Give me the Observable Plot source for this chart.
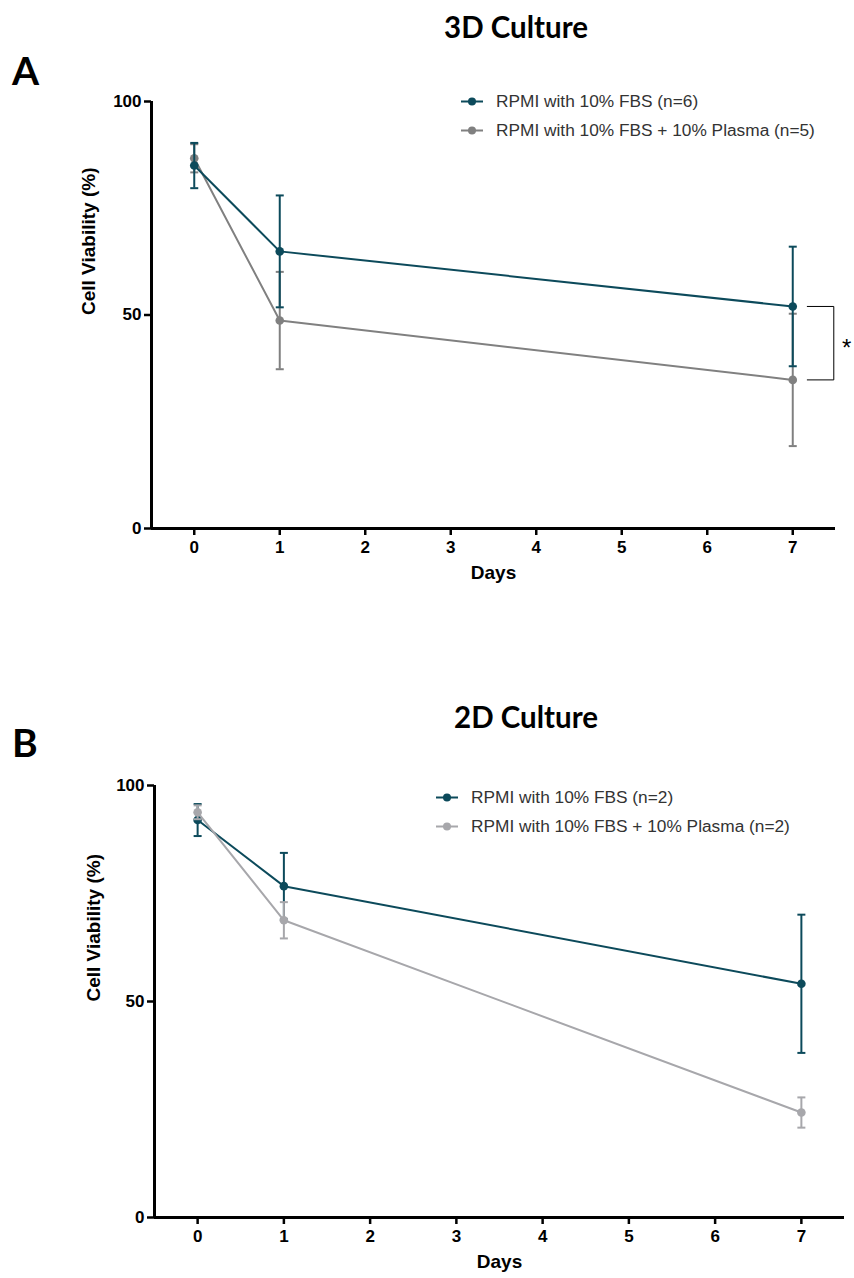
<!DOCTYPE html>
<html>
<head>
<meta charset="utf-8">
<script src="https://cdn.jsdelivr.net/npm/d3@7"></script>
<script src="https://cdn.jsdelivr.net/npm/@observablehq/plot@0.6"></script>
<style>
  html, body { margin: 0; padding: 0; background: #fff; }
  #wrap { position: relative; width: 854px; height: 1278px; overflow: hidden; font-family: "Liberation Sans", Arial, sans-serif; }
  .panel { position: absolute; left: 0; }
  .title { position: absolute; font-family: Lato, "Open Sans", sans-serif; font-weight: 700; font-size: 29.5px; transform: translate(-50%, -50%); white-space: nowrap; color: #000; }
  .letter { position: absolute; font-family: Lato, "Open Sans", sans-serif; font-weight: 700; font-size: 39px; transform: translateY(-50%); color: #000; }
  .legend { position: absolute; font-family: "Liberation Sans", Arial, sans-serif; font-size: 17.3px; color: #333; }
  .legend .row { position: absolute; left: 0; display: flex; align-items: center; white-space: nowrap; transform: translateY(-50%); }
  .legend svg { margin-right: 12px; }
</style>
</head>
<body>
<div id="wrap"></div>
<script>
// ---------- data ----------
const days = [0, 1, 7];
const xTicks = [0, 1, 2, 3, 4, 5, 6, 7];
const yTicks = [0, 50, 100];

// Panel A: 3D culture (mean, SD)
const fbs3D = [85.0, 64.9, 52.0];
const fbs3DErr = [5.3, 13.1, 14.0];
const plasma3D = [86.7, 48.7, 34.8];
const plasma3DErr = [3.3, 11.4, 15.5];

// Panel B: 2D culture (mean, SD)
const fbs2D = [92.0, 76.7, 54.1];
const fbs2DErr = [3.7, 7.7, 16.0];
const plasma2D = [93.8, 68.8, 24.3];
const plasma2DErr = [1.6, 4.2, 3.5];

const labels3D = ["RPMI with 10% FBS (n=6)", "RPMI with 10% FBS + 10% Plasma (n=5)"];
const labels2D = ["RPMI with 10% FBS (n=2)", "RPMI with 10% FBS + 10% Plasma (n=2)"];

const DARK = "#0c4a5b";
const GRAY_A = "#808080";
const GRAY_B = "#a7a7ab";

// ---------- helpers ----------
const capSymbol = {
  draw(ctx, size) {
    const r = Math.sqrt(size / Math.PI);
    ctx.moveTo(-r, 0);
    ctx.lineTo(r, 0);
  }
};

function rows(means, errs) {
  return days.map((d, i) => ({day: d, mean: means[i], lo: means[i] - errs[i], hi: means[i] + errs[i]}));
}

function seriesMarks(data, color) {
  return [
    Plot.ruleX(data, {x: "day", y1: "lo", y2: "hi", stroke: color, strokeWidth: 2}),
    Plot.dot(data, {x: "day", y: "hi", symbol: capSymbol, r: 4, stroke: color, strokeWidth: 2, fill: "none"}),
    Plot.dot(data, {x: "day", y: "lo", symbol: capSymbol, r: 4, stroke: color, strokeWidth: 2, fill: "none"}),
    Plot.line(data, {x: "day", y: "mean", stroke: color, strokeWidth: 2}),
    Plot.dot(data, {x: "day", y: "mean", r: 4.3, fill: color, stroke: "none"})
  ];
}

function frameMarks(yLabelDx) {
  return [
    Plot.ruleX([-0.5], {stroke: "#000", strokeWidth: 3}),
    Plot.ruleY([0], {stroke: "#000", strokeWidth: 3}),
    Plot.axisX({ticks: xTicks, tickSize: 7, tickPadding: 5, strokeWidth: 2.5, stroke: "#000", fill: "#000",
      fontSize: 17, fontWeight: "bold", label: null}),
    Plot.axisY({ticks: yTicks, tickSize: 7, tickPadding: 3, strokeWidth: 2.5, stroke: "#000", fill: "#000",
      fontSize: 17, fontWeight: "bold", label: null}),
    Plot.text(["Days"], {frameAnchor: "bottom", dy: 50, fontSize: 19, fontWeight: "bold", fill: "#000"}),
    Plot.text(["Cell Viability (%)"], {frameAnchor: "left", dx: yLabelDx, rotate: -90, fontSize: 19, fontWeight: "bold", fill: "#000"})
  ];
}

const wrap = document.getElementById("wrap");

function place(el, top) {
  el.classList.add("panel");
  el.style.top = top + "px";
  wrap.appendChild(el);
}

function addDiv(cls, text, left, top) {
  const d = document.createElement("div");
  d.className = cls;
  d.textContent = text;
  d.style.left = left + "px";
  d.style.top = top + "px";
  wrap.appendChild(d);
}

function addLegend(left, tops, labelsArr, colors) {
  const lg = document.createElement("div");
  lg.className = "legend";
  lg.style.left = left + "px";
  lg.style.top = "0px";
  labelsArr.forEach((t, i) => {
    const r = document.createElement("div");
    r.className = "row";
    r.style.top = tops[i] + "px";
    r.innerHTML = `<svg width="24" height="10"><line x1="1" y1="5" x2="23" y2="5" stroke="${colors[i]}" stroke-width="2"/><circle cx="12" cy="5" r="4" fill="${colors[i]}"/></svg><span></span>`;
    r.querySelector("span").textContent = t;
    lg.appendChild(r);
  });
  wrap.appendChild(lg);
}

// ---------- Panel A ----------
const a1 = rows(fbs3D, fbs3DErr);
const a2 = rows(plasma3D, plasma3DErr);
const bx0 = 7.17, bx1 = 7.48;
const bracket = [
  {x: bx0, y: fbs3D[2]}, {x: bx1, y: fbs3D[2]},
  {x: bx1, y: plasma3D[2]}, {x: bx0, y: plasma3D[2]}
];

const plotA = Plot.plot({
  width: 854,
  height: 620,
  marginTop: 101,
  marginBottom: 92,
  marginLeft: 151,
  marginRight: 19,
  style: {fontFamily: "'Liberation Sans', Arial, sans-serif", background: "transparent", overflow: "visible"},
  x: {domain: [-0.5, 7.5]},
  y: {domain: [0, 100]},
  marks: [
    ...frameMarks(-63),
    ...seriesMarks(a2, GRAY_A),
    ...seriesMarks(a1, DARK),
    Plot.line(bracket, {x: "x", y: "y", stroke: "#000", strokeWidth: 1}),
    Plot.text(["*"], {x: [7.63], y: [(fbs3D[2] + plasma3D[2]) / 2], text: d => d, fontSize: 24, fill: "#000", dy: 5})
  ]
});
place(plotA, 0);

// ---------- Panel B ----------
const b1 = rows(fbs2D, fbs2DErr);
const b2 = rows(plasma2D, plasma2DErr);
const plotB = Plot.plot({
  width: 854,
  height: 638,
  marginTop: 145,
  marginBottom: 61,
  marginLeft: 154,
  marginRight: 10,
  style: {fontFamily: "'Liberation Sans', Arial, sans-serif", background: "transparent", overflow: "visible"},
  x: {domain: [-0.5, 7.5]},
  y: {domain: [0, 100]},
  marks: [
    ...frameMarks(-61),
    ...seriesMarks(b1, DARK),
    ...seriesMarks(b2, GRAY_B)
  ]
});
place(plotB, 640);

// ---------- titles, letters, legends ----------
addDiv("title", "3D Culture", 516, 26);
addDiv("letter", "A", 12, 70);
addDiv("title", "2D Culture", 526, 716);
addDiv("letter", "B", 12, 742);
addLegend(460, [101, 130], labels3D, [DARK, GRAY_A]);
addLegend(435, [797, 826], labels2D, [DARK, GRAY_B]);
</script>
</body>
</html>
